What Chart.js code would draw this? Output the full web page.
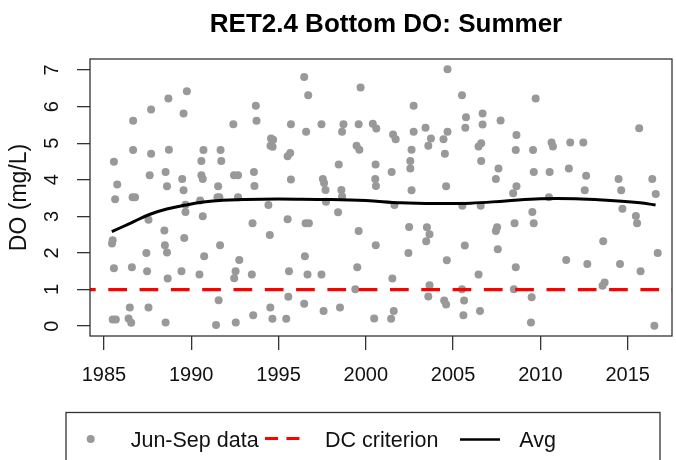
<!DOCTYPE html>
<html>
<head>
<meta charset="utf-8">
<script src="https://cdn.jsdelivr.net/npm/chart.js@4.4.0/dist/chart.umd.min.js"></script>
<style>
  html, body { margin: 0; padding: 0; background: #fff; }
</style>
</head>
<body>
<canvas id="chart" width="676" height="460"></canvas>
<script>
// Jun-Sep bottom DO samples (decimal year, mg/L)
const sampleYears = [
  1985.57, 1985.76, 1985.64, 1985.50, 1985.46, 1985.57, 1985.50, 1985.68,
  1986.67, 1986.67, 1986.64, 1986.78, 1986.60, 1986.48, 1986.41, 1986.56,
  1987.70, 1987.70, 1987.62, 1987.55, 1987.43, 1987.47, 1987.55,
  1988.69, 1988.72, 1988.53, 1988.61, 1988.46, 1988.49, 1988.61, 1988.65, 1988.53,
  1989.75, 1989.56, 1989.48, 1989.56, 1989.67, 1989.67, 1989.60, 1989.44,
  1990.70, 1990.58, 1990.58, 1990.66, 1990.51, 1990.66, 1990.74, 1990.47,
  1991.68, 1991.72, 1991.54, 1991.50, 1991.61, 1991.65, 1991.57, 1991.42,
  1992.41, 1992.45, 1992.68, 1992.68, 1992.75, 1992.54, 1992.46, 1992.55,
  1993.70, 1993.74, 1993.59, 1993.62, 1993.51, 1993.47, 1993.55,
  1994.42, 1994.50, 1994.53, 1994.65, 1994.57, 1994.69, 1994.54, 1994.66,
  1995.71, 1995.52, 1995.67, 1995.71, 1995.52, 1995.60, 1995.56, 1995.44,
  1996.47, 1996.70, 1996.58, 1996.55, 1996.74, 1996.51, 1996.66, 1996.47,
  1997.46, 1997.54, 1997.61, 1997.69, 1997.72, 1997.46, 1997.58,
  1998.72, 1998.64, 1998.45, 1998.60, 1998.64, 1998.41, 1998.52,
  1999.59, 1999.47, 1999.63, 1999.70, 1999.59, 1999.51, 1999.40,
  2000.40, 2000.60, 2000.56, 2000.54, 2000.58, 2000.57, 2000.48,
  2001.56, 2001.71, 2001.48, 2001.64, 2001.52, 2001.60, 2001.45,
  2002.74, 2002.74, 2002.62, 2002.55, 2002.55, 2002.62, 2002.48, 2002.44,
  2003.42, 2003.73, 2003.58, 2003.50, 2003.65, 2003.46, 2003.65, 2003.58,
  2004.68, 2004.68, 2004.45, 2004.53, 2004.60, 2004.64, 2004.49, 2004.60,
  2005.51, 2005.74, 2005.70, 2005.67, 2005.51, 2005.63, 2005.59, 2005.53,
  2006.69, 2006.69, 2006.61, 2006.46, 2006.61, 2006.58, 2006.46, 2006.54,
  2007.72, 2007.60, 2007.45, 2007.52, 2007.45, 2007.56,
  2008.44, 2008.63, 2008.52, 2008.59, 2008.48, 2008.63, 2008.59,
  2009.73, 2009.58, 2009.62, 2009.54, 2009.62, 2009.50, 2009.46,
  2010.64, 2010.72, 2010.53, 2010.49,
  2011.71, 2011.63, 2011.48,
  2012.46, 2012.62, 2012.54, 2012.69,
  2013.60, 2013.68, 2013.56,
  2014.48, 2014.63, 2014.70, 2014.56,
  2015.66, 2015.47, 2015.54, 2015.74,
  2016.41, 2016.61, 2016.72, 2016.53
];
const sampleDO = [
  4.49, 3.87, 3.47, 2.35, 2.26, 1.58, 0.18, 0.18,
  5.61, 4.81, 3.52, 3.52, 1.61, 0.51, 0.21, 0.09,
  5.92, 4.71, 4.12, 2.91, 2.00, 1.50, 0.51,
  6.22, 4.82, 4.21, 3.82, 2.61, 2.21, 2.01, 1.30, 0.10,
  6.42, 5.81, 4.02, 3.71, 3.32, 3.12, 2.41, 1.50,
  4.81, 4.51, 4.12, 4.02, 3.43, 3.00, 1.91, 1.41,
  4.81, 4.51, 3.82, 3.52, 3.52, 2.21, 0.71, 0.03,
  5.52, 4.12, 4.12, 3.52, 1.81, 1.50, 1.31, 0.10,
  6.02, 5.61, 4.21, 3.83, 2.81, 1.41, 0.30,
  3.31, 2.49, 0.51, 0.20, 5.13, 5.09, 4.93, 4.90,
  5.52, 4.64, 4.73, 4.01, 2.92, 1.50, 0.80, 0.20,
  6.81, 6.31, 5.31, 2.81, 2.81, 1.91, 1.41, 0.61,
  5.52, 4.02, 3.91, 3.72, 3.40, 1.41, 0.41,
  5.52, 5.31, 4.42, 3.72, 3.54, 3.11, 0.51,
  5.52, 4.93, 4.82, 6.52, 2.60, 1.61, 1.01,
  5.53, 5.40, 4.42, 4.02, 3.83, 2.21, 0.21,
  5.24, 5.11, 4.21, 3.31, 1.30, 0.41, 0.20,
  6.02, 5.31, 4.82, 4.51, 4.31, 3.71, 2.71, 2.00,
  5.42, 5.13, 4.93, 2.70, 2.51, 2.32, 1.12, 0.81,
  7.02, 5.31, 5.11, 4.71, 3.82, 1.80, 0.70, 0.59,
  6.31, 5.71, 5.42, 2.20, 1.01, 0.70, 0.30, 3.29,
  5.81, 5.51, 5.00, 4.91, 4.51, 3.29, 1.41, 0.41,
  5.62, 4.31, 4.02, 2.70, 2.60, 2.10,
  3.63, 3.82, 2.81, 1.61, 1.01, 5.22, 4.81,
  6.22, 4.81, 4.21, 3.12, 2.81, 0.79, 0.10,
  5.02, 4.91, 4.21, 3.52,
  5.02, 4.31, 1.81,
  5.02, 4.11, 3.71, 1.70,
  2.32, 1.19, 1.10,
  4.02, 3.71, 3.21, 1.70,
  5.41, 3.01, 2.81, 1.50,
  4.02, 3.61, 2.00, 0.01
];

// smoothed average
const avgYears = [1985.45, 1986.5, 1987.6, 1988.6, 1989.7, 1990.7, 1991.8, 1993, 1994, 1996,
                  1998, 2000, 2002, 2004, 2006, 2008, 2010, 2012, 2014, 2015.7, 2016.6];
const avgDO = [2.58, 2.81, 3.05, 3.20, 3.31, 3.39, 3.44, 3.46, 3.47, 3.47,
               3.46, 3.43, 3.37, 3.35, 3.36, 3.42, 3.48, 3.48, 3.43, 3.37, 3.31];

const criterionDO = 1;

const xTicks = [1985, 1990, 1995, 2000, 2005, 2010, 2015];
const yTicks = [0, 1, 2, 3, 4, 5, 6, 7];
const xMin = 1984.2, xMax = 2017.54;
const yMin = -0.27, yMax = 7.3;

const FONT = "'Liberation Sans', Arial, sans-serif";
const GRAY = "#999999";
const RED = "#ff0000";

// R-style frame: title, box, rotated y labels, legend
const rFrame = {
    id: "rFrame",
    afterDraw(chart) {
        const ctx = chart.ctx;
        const a = chart.chartArea;
        ctx.save();

        // box
        ctx.strokeStyle = "#333";
        ctx.lineWidth = 1.3;
        ctx.strokeRect(a.left, a.top, a.right - a.left, a.bottom - a.top);

        // title
        ctx.fillStyle = "#000";
        ctx.font = "bold 26px " + FONT;
        ctx.textAlign = "center";
        ctx.textBaseline = "alphabetic";
        ctx.fillText("RET2.4 Bottom DO: Summer", 386, 31.5);

        // y tick labels, rotated like R
        const ys = chart.scales.y;
        ctx.font = "20px " + FONT;
        ctx.fillStyle = "#111";
        yTicks.forEach(v => {
            ctx.save();
            ctx.translate(57.5, ys.getPixelForValue(v));
            ctx.rotate(-Math.PI / 2);
            ctx.fillText(String(v), 0, 0);
            ctx.restore();
        });

        // legend
        ctx.strokeStyle = "#333";
        ctx.lineWidth = 1.3;
        ctx.strokeRect(66, 412.5, 594, 70);

        ctx.fillStyle = GRAY;
        ctx.beginPath();
        ctx.arc(90.7, 439, 4, 0, Math.PI * 2);
        ctx.fill();

        ctx.fillStyle = "#111";
        ctx.font = "21.5px " + FONT;
        ctx.textAlign = "left";
        ctx.fillText("Jun-Sep data", 130.7, 447);
        ctx.fillText("DC criterion", 325, 447);
        ctx.fillText("Avg", 519.3, 447);

        ctx.strokeStyle = RED;
        ctx.lineWidth = 3;
        ctx.setLineDash([13, 8.4]);
        ctx.beginPath();
        ctx.moveTo(265, 438.5);
        ctx.lineTo(300, 438.5);
        ctx.stroke();

        ctx.setLineDash([]);
        ctx.strokeStyle = "#000";
        ctx.lineWidth = 2.6;
        ctx.beginPath();
        ctx.moveTo(460, 439.5);
        ctx.lineTo(500, 439.5);
        ctx.stroke();

        ctx.restore();
    }
};

const ctx = document.getElementById("chart").getContext("2d");

const chart = new Chart(ctx, {
    type: "scatter",
    data: {
        datasets: [
            {
                label: "DC criterion",
                type: "line",
                data: [{ x: xMin, y: criterionDO }, { x: xMax, y: criterionDO }],
                borderColor: RED,
                borderWidth: 3.3,
                borderDash: [18.7, 12.6],
                borderDashOffset: 13,
                pointRadius: 0,
                fill: false,
                order: 1
            },
            {
                label: "Avg",
                type: "line",
                data: avgYears.map((yr, i) => ({ x: yr, y: avgDO[i] })),
                borderColor: "#000",
                borderWidth: 3,
                tension: 0.4,
                pointRadius: 0,
                fill: false,
                order: 2
            },
            {
                label: "Jun-Sep data",
                data: sampleYears.map((yr, i) => ({ x: yr, y: sampleDO[i] })),
                backgroundColor: GRAY,
                borderColor: GRAY,
                borderWidth: 0,
                pointRadius: 4,
                order: 3
            }
        ]
    },
    options: {
        responsive: false,
        animation: false,
        devicePixelRatio: 1,
        layout: { padding: { top: 59, right: 1, left: 0, bottom: 0 } },
        plugins: {
            legend: { display: false },
            tooltip: { enabled: false }
        },
        scales: {
            x: {
                type: "linear",
                min: xMin,
                max: xMax,
                afterBuildTicks: s => { s.ticks = xTicks.map(v => ({ value: v })); },
                afterFit: s => { s.height = 124; },
                border: { display: false },
                grid: {
                    drawOnChartArea: false,
                    drawTicks: true,
                    tickLength: 14,
                    color: "#333",
                    lineWidth: 1.3
                },
                ticks: {
                    font: { family: FONT, size: 20 },
                    color: "#111",
                    padding: 13,
                    maxRotation: 0,
                    autoSkip: false,
                    callback: v => String(v)
                }
            },
            y: {
                type: "linear",
                min: yMin,
                max: yMax,
                afterBuildTicks: s => { s.ticks = yTicks.map(v => ({ value: v })); },
                afterFit: s => { s.width = 90; },
                border: { display: false },
                grid: {
                    drawOnChartArea: false,
                    drawTicks: true,
                    tickLength: 13,
                    color: "#333",
                    lineWidth: 1.3
                },
                ticks: { display: false },
                title: {
                    display: true,
                    text: "DO (mg/L)",
                    font: { family: FONT, size: 23 },
                    color: "#111",
                    padding: { top: 6, bottom: 0 }
                }
            }
        }
    },
    plugins: [rFrame]
});
</script>
</body>
</html>
